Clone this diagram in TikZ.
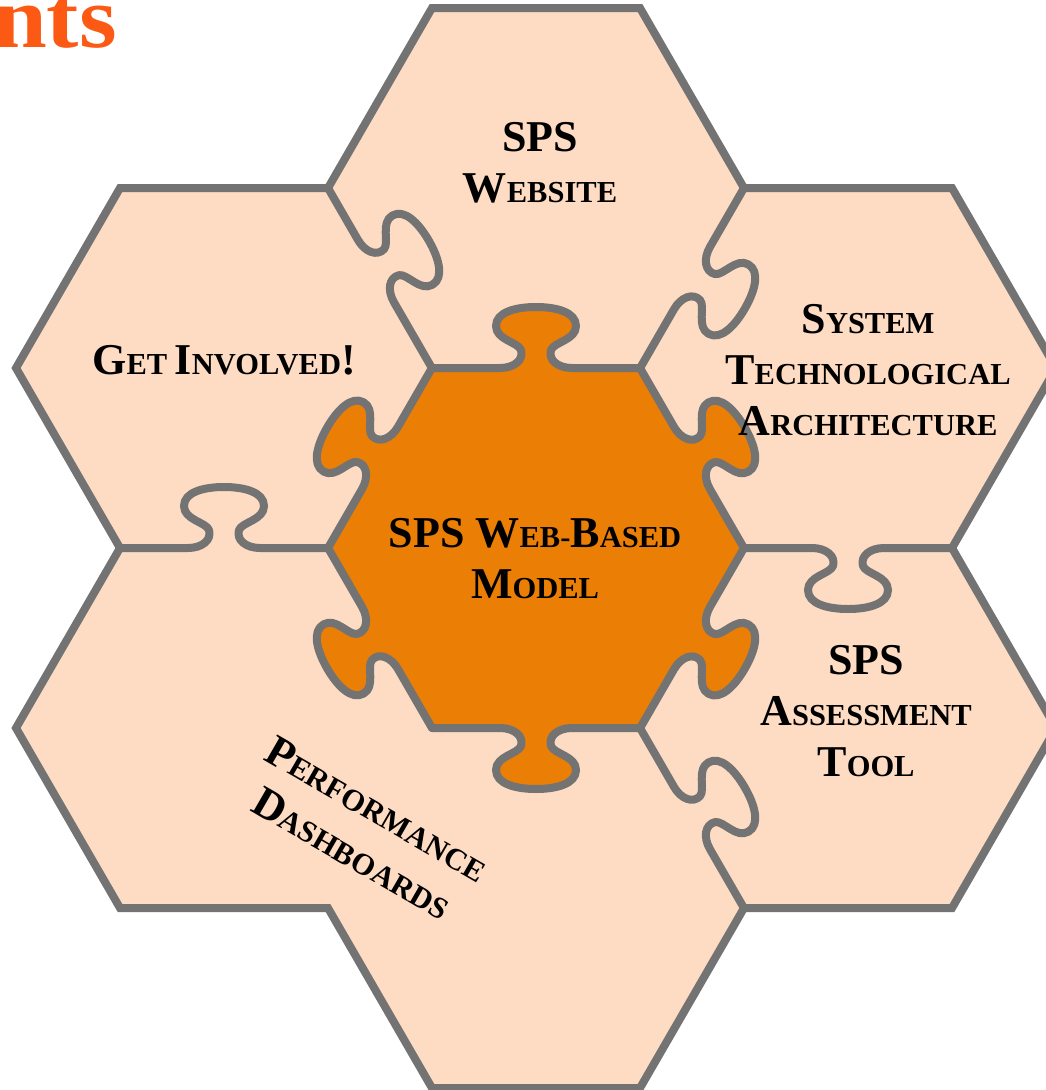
\documentclass[tikz,border=0pt]{standalone}
\usepackage{fontspec}
\setmainfont{Liberation Serif}
\definecolor{peach}{RGB}{253,220,195}
\definecolor{ctrorange}{RGB}{235,126,5}
\definecolor{edgegray}{RGB}{115,115,115}
\definecolor{titleorange}{RGB}{252,90,20}
\newcommand{\Bg}[1]{{\fontsize{44}{50}\selectfont #1}}
\newcommand{\Sm}[1]{{\fontsize{30.5}{50}\selectfont #1}}
\tikzset{
  seam/.style={draw=edgegray, line width=8, line cap=round, line join=round},
  lbl/.style={align=center, inner sep=0pt, text=black, font=\fontsize{30.5}{51}\selectfont\bfseries},
}
% tab line: #1,#2 start vertex, #3 angle, #4 tab centre along edge, #5 side
\newcommand{\tabline}[5]{%
  \begin{scope}[shift={(#1,#2)},rotate=#3,yscale=#5]
    \draw[seam] (0,0) -- ({#4-36},0)
      .. controls ({#4-22},0) and ({#4-12},8) .. ({#4-15},18)
      .. controls ({#4-18},26) and ({#4-40},28) .. ({#4-40},42)
      .. controls ({#4-40},56) and ({#4-20},61) .. ({#4},61)
      .. controls ({#4+20},61) and ({#4+40},56) .. ({#4+40},42)
      .. controls ({#4+40},28) and ({#4+18},26) .. ({#4+15},18)
      .. controls ({#4+12},8) and ({#4+22},0) .. ({#4+36},0)
      -- (208,0);
  \end{scope}}
\newcommand{\tabfill}[5]{%
  \begin{scope}[shift={(#1,#2)},rotate=#3,yscale=#5]
    \fill[ctrorange] ({#4-36},0)
      .. controls ({#4-22},0) and ({#4-12},8) .. ({#4-15},18)
      .. controls ({#4-18},26) and ({#4-40},28) .. ({#4-40},42)
      .. controls ({#4-40},56) and ({#4-20},61) .. ({#4},61)
      .. controls ({#4+20},61) and ({#4+40},56) .. ({#4+40},42)
      .. controls ({#4+40},28) and ({#4+18},26) .. ({#4+15},18)
      .. controls ({#4+12},8) and ({#4+22},0) .. ({#4+36},0)
      -- ({#4+36},-14) -- ({#4-36},-14) -- cycle;
  \end{scope}}
\begin{document}
\begin{tikzpicture}[x=1pt,y=-1pt]
\useasboundingbox (0,0) rectangle (1045,1090);
% outline of the whole puzzle
\coordinate (o1) at (432,8);
\coordinate (o2) at (640,8);
\coordinate (o3) at (744,188);
\coordinate (o4) at (952,188);
\coordinate (o5) at (1056,368);
\coordinate (o6) at (952,548);
\coordinate (o7) at (1056,728);
\coordinate (o8) at (952,908);
\coordinate (o9) at (744,908);
\coordinate (o10) at (640,1088);
\coordinate (o11) at (432,1088);
\coordinate (o12) at (328,908);
\coordinate (o13) at (120,908);
\coordinate (o14) at (16,728);
\coordinate (o15) at (120,548);
\coordinate (o16) at (16,368);
\coordinate (o17) at (120,188);
\coordinate (o18) at (328,188);
\fill[peach] (o1) -- (o2) -- (o3) -- (o4) -- (o5) -- (o6) -- (o7) -- (o8) -- (o9) -- (o10) -- (o11) -- (o12) -- (o13) -- (o14) -- (o15) -- (o16) -- (o17) -- (o18) -- cycle;
% centre piece
\coordinate (c1) at (432,368);
\coordinate (c2) at (640,368);
\coordinate (c3) at (744,548);
\coordinate (c4) at (640,728);
\coordinate (c5) at (432,728);
\coordinate (c6) at (328,548);
\fill[ctrorange] (c1) -- (c2) -- (c3) -- (c4) -- (c5) -- (c6) -- cycle;
\tabfill{432}{368}{0}{104}{-1}
\tabfill{640}{368}{-60}{104}{-1}
\tabfill{744}{548}{-120}{104}{-1}
\tabfill{640}{728}{180}{104}{-1}
\tabfill{432}{728}{120}{104}{-1}
\tabfill{328}{548}{60}{104}{-1}
% seams
\tabline{328}{188}{-60}{96}{-1}
\tabline{744}{188}{-120}{104}{-1}
\tabline{432}{368}{0}{104}{-1}
\tabline{640}{368}{-60}{104}{-1}
\tabline{744}{548}{-120}{104}{-1}
\tabline{640}{728}{180}{104}{-1}
\tabline{432}{728}{120}{104}{-1}
\tabline{328}{548}{60}{104}{-1}
\tabline{120}{548}{0}{104}{-1}
\tabline{744}{548}{0}{104}{1}
\tabline{640}{728}{-60}{104}{-1}
\draw[seam, line join=miter, line cap=butt] (o1) -- (o2) -- (o3) -- (o4) -- (o5) -- (o6) -- (o7) -- (o8) -- (o9) -- (o10) -- (o11) -- (o12) -- (o13) -- (o14) -- (o15) -- (o16) -- (o17) -- (o18) -- cycle;
% labels
\node[lbl] (web) at (540,163) {\Bg{SPS}\\\Bg{W}\Sm{EBSITE}};
\node[lbl] (inv) at (224,360) {\Bg{G}\Sm{ET} \Bg{I}\Sm{NVOLVED}\Bg{!}};
\node[lbl] (arch) at (868,370) {\Bg{S}\Sm{YSTEM}\\\Bg{T}\Sm{ECHNOLOGICAL}\\\Bg{A}\Sm{RCHITECTURE}};
\node[lbl] (model) at (535,559) {\Bg{SPS W}\Sm{EB-}\Bg{B}\Sm{ASED}\\\Bg{M}\Sm{ODEL}};
\node[lbl] (tool) at (866,711) {\Bg{SPS}\\\Bg{A}\Sm{SSESSMENT}\\\Bg{T}\Sm{OOL}};
\node[lbl, rotate=-30] (dash) at (365,831) {\Bg{P}\Sm{ERFORMANCE}\\\Bg{D}\Sm{ASHBOARDS}};
\node[anchor=base east, inner sep=0pt, text=titleorange, font=\fontsize{88}{96}\selectfont\bfseries] (title) at (117,47) {\scalebox{1.1}[1]{nts}};
\end{tikzpicture}
\end{document}
